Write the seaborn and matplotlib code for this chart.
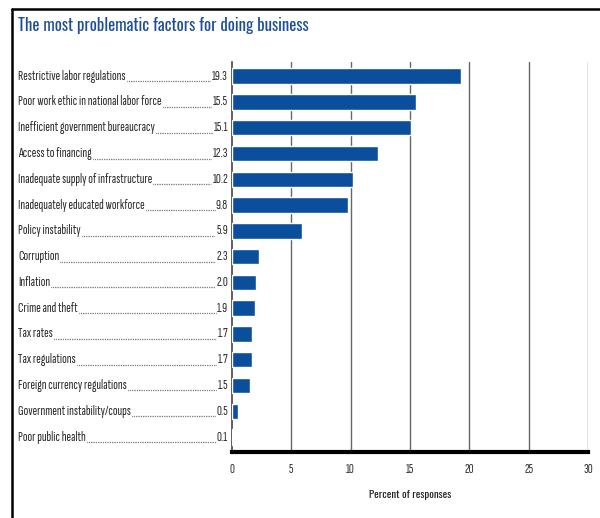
import matplotlib
matplotlib.use("Agg")
import matplotlib.pyplot as plt
import seaborn as sns
import pandas as pd
from matplotlib.lines import Line2D

# data
factors = [
    "Restrictive labor regulations",
    "Poor work ethic in national labor force",
    "Inefficient government bureaucracy",
    "Access to financing",
    "Inadequate supply of infrastructure",
    "Inadequately educated workforce",
    "Policy instability",
    "Corruption",
    "Inflation",
    "Crime and theft",
    "Tax rates",
    "Tax regulations",
    "Foreign currency regulations",
    "Government instability/coups",
    "Poor public health",
]
values = [19.3, 15.5, 15.1, 12.3, 10.2, 9.8, 5.9, 2.3, 2.0, 1.9, 1.7, 1.7, 1.5, 0.5, 0.1]
value_labels = ["19.3", "15.5", "15.1", "12.3", "10.2", "9.8", "5.9", "2.3", "2.0",
                "1.9", "1.7", "1.7", "1.5", "0.5", "0.1"]
xticks = [0, 5, 10, 15, 20, 25, 30]

df = pd.DataFrame({"factor": factors, "value": values})

sns.set_style("white")
font = ["Sofia Sans Extra Condensed", "Fira Sans Extra Condensed", "DejaVu Sans"]
bold_font = ["Oswald", "Fira Sans Extra Condensed", "DejaVu Sans"]
plt.rcParams["font.family"] = font

W, H = 600, 518
fig = plt.figure(figsize=(W / 100, H / 100), dpi=100)
ax = fig.add_axes([232 / W, 1 - 452 / H, (588 - 232) / W, (452 - 62) / H])

sns.barplot(data=df, x="value", y="factor", color="#0b4f9c", width=0.6,
            saturation=1, ax=ax, zorder=3)

ax.set_xlim(0, 30)
ax.set_ylim(14.58, -0.55)
ax.set_xticks(xticks)
ax.set_xticklabels([str(t) for t in xticks], fontsize=10, color="#333333")
ax.tick_params(axis="x", length=0, pad=8)
ax.set_yticks([])
ax.set_ylabel("")
ax.set_xlabel("Percent of responses", fontsize=7.8, fontweight="bold", family=bold_font,
              color="#222222", labelpad=10)

for t in xticks[1:]:
    ax.axvline(t, color="#666666", lw=1, zorder=1)

for s in ["top", "right"]:
    ax.spines[s].set_visible(False)
ax.spines["left"].set_color("#444444")
ax.spines["left"].set_linewidth(1.2)
ax.spines["bottom"].set_color("black")
ax.spines["bottom"].set_linewidth(3)

# labels with dotted leaders
rows = []
for i, (name, lab) in enumerate(zip(factors, value_labels)):
    y_fig = fig.transFigure.inverted().transform(ax.transData.transform((0, i)))[1]
    n = fig.text(18 / W, y_fig, name, ha="left", va="center", fontsize=10, color="#2a2a2a")
    v = fig.text(228 / W, y_fig, lab, ha="right", va="center", fontsize=10, color="#2a2a2a")
    rows.append((n, v, y_fig))

fig.canvas.draw()
r = fig.canvas.get_renderer()
inv = fig.transFigure.inverted()
for n, v, y_fig in rows:
    x0 = inv.transform((n.get_window_extent(r).x1 + 1, 0))[0]
    x1 = inv.transform((v.get_window_extent(r).x0 - 1, 0))[0]
    yb = y_fig - 5 / H
    fig.add_artist(Line2D([x0, x1], [yb, yb], transform=fig.transFigure,
                          color="#333333", lw=0.9, linestyle=(0, (0.5, 0.9))))

fig.text(18 / W, 1 - 26 / H, "The most problematic factors for doing business",
         ha="left", va="center", fontsize=12, fontweight="bold", family=bold_font,
         color="#1d4f96")

# outer frame
fig.add_artist(Line2D([12 / W, 12 / W], [0, 1 - 9 / H], transform=fig.transFigure,
                      color="black", lw=1.8))
fig.add_artist(Line2D([12 / W, 1], [1 - 9 / H, 1 - 9 / H], transform=fig.transFigure,
                      color="black", lw=1.8))

fig.savefig("out.png", dpi=100)
